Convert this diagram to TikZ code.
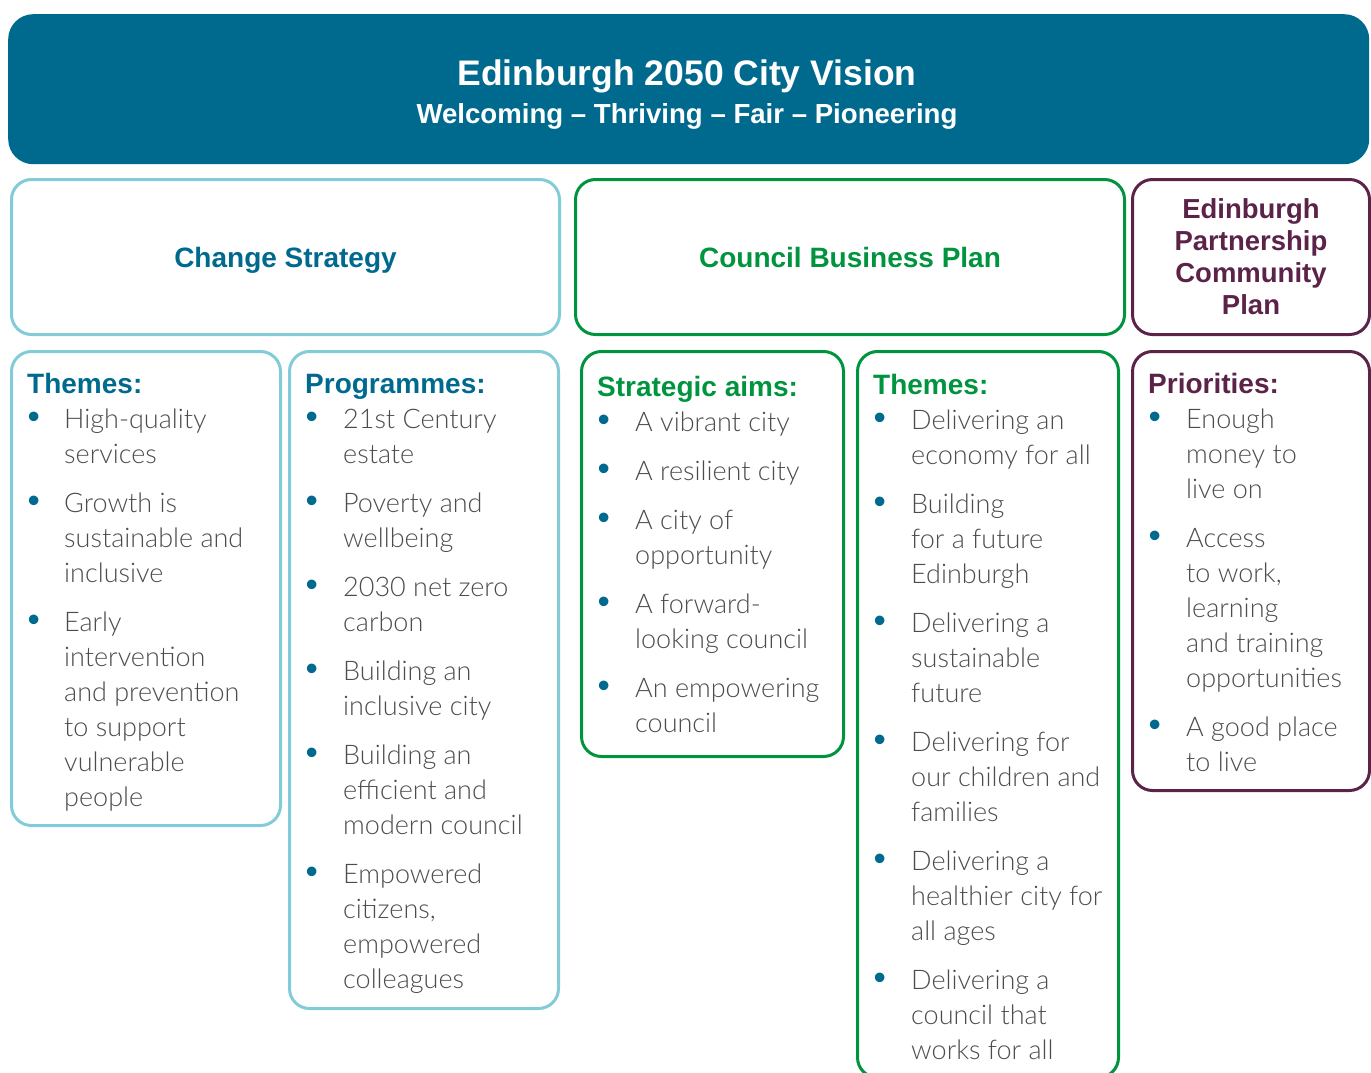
\documentclass[tikz,border=0pt]{standalone}
\usepackage{fontspec}
\usepackage{array}
\setmainfont{Liberation Sans}
\IfFontExistsTF{Lato Light}
  {\newfontfamily\bodyfont{Lato Light}}
  {\newfontfamily\bodyfont{Liberation Sans}}

\definecolor{cvteal}{HTML}{006A8E}
\definecolor{cslight}{HTML}{82CCD7}
\definecolor{cbgreen}{HTML}{00943F}
\definecolor{eppurple}{HTML}{5C2349}
\definecolor{bodygrey}{HTML}{4C4C4E}

\newcommand{\blt}{\hspace{0.5pt}\textcolor{cvteal}{\scalebox{1.3}{\rmfamily\textbullet}}}
\newcommand{\listhead}[2]{\multicolumn{2}{@{}l@{}}{\fontsize{28}{35}\selectfont\rmfamily\bfseries\color{#1}#2}}

\tikzset{
  panel/.style={draw, line width=3pt, rounded corners=20pt, anchor=north west, inner sep=0pt},
  cspanel/.style={panel, draw=cslight},
  cbpanel/.style={panel, draw=cbgreen},
  eppanel/.style={panel, draw=eppurple},
  plantitle/.style={font=\fontsize{28}{32}\selectfont\bfseries, align=center},
  itemlist/.style={anchor=base west, inner sep=0pt, text=bodygrey, font=\fontsize{27}{35}\selectfont\bodyfont}
}

\begin{document}
\begin{tikzpicture}[x=1pt, y=-1pt]

  \useasboundingbox (0,0) rectangle (1371,1073);

  % city vision banner
  \node (vision) at (8,14) [anchor=north west, fill=cvteal, rounded corners=25pt, minimum width=1361pt, minimum height=150pt] {};
  \node (visiontitle) at (687,72) [text=white, text height=26pt, text depth=0pt, font=\fontsize{35.5}{40}\selectfont\bfseries] {Edinburgh 2050 City Vision};
  \node (visionsub) at (687,113) [text=white, text height=20pt, text depth=0pt, font=\fontsize{27.6}{32}\selectfont\bfseries] {Welcoming -- Thriving -- Fair -- Pioneering};

  % plan titles
  \node (cs) at (10,178) [cspanel, minimum width=548pt, minimum height=155pt] {};
  \node (cstitle) at (cs.center) [plantitle, text=cvteal, text height=20pt, text depth=0pt] {Change Strategy};
  \node (cbp) at (574,178) [cbpanel, minimum width=549pt, minimum height=155pt] {};
  \node (cbptitle) at (cbp.center) [plantitle, text=cbgreen, text height=20pt, text depth=0pt] {Council Business Plan};
  \node (ep) at (1131,178) [eppanel, minimum width=237pt, minimum height=155pt] {};
  \node (eptitle) at (ep.center) [plantitle, text=eppurple, font=\fontsize{27.5}{32}\selectfont\bfseries] {Edinburgh\\Partnership\\Community\\Plan};

  % list panels
  \node (cstheme) at (10,350) [cspanel, minimum width=269pt, minimum height=474pt] {};
  \node (csprog) at (288,350) [cspanel, minimum width=269pt, minimum height=657pt] {};
  \node (cbpaims) at (580,350) [cbpanel, minimum width=262pt, minimum height=405pt] {};
  \node (cbptheme) at (856,350) [cbpanel, minimum width=261pt, minimum height=726pt] {};
  \node (eppri) at (1131,350) [eppanel, minimum width=237pt, minimum height=439pt] {};

  \node (csthemelist) at (27,393) [itemlist] {%
    \begin{tabular}[t]{@{}p{37pt}@{}l@{}}
      \listhead{cvteal}{Themes:}\\
      \blt & High-quality\\
           & services\\[14pt]
      \blt & Growth is\\
           & sustainable and\\
           & inclusive\\[14pt]
      \blt & Early\\
           & intervention\\
           & and prevention\\
           & to support\\
           & vulnerable\\
           & people
    \end{tabular}};

  \node (csproglist) at (305,393) [itemlist] {%
    \begin{tabular}[t]{@{}p{38pt}@{}l@{}}
      \listhead{cvteal}{Programmes:}\\
      \blt & 21st Century\\
           & estate\\[14pt]
      \blt & Poverty and\\
           & wellbeing\\[14pt]
      \blt & 2030 net zero\\
           & carbon\\[14pt]
      \blt & Building an\\
           & inclusive city\\[14pt]
      \blt & Building an\\
           & efficient and\\
           & modern council\\[14pt]
      \blt & Empowered\\
           & citizens,\\
           & empowered\\
           & colleagues
    \end{tabular}};

  \node (cbpaimslist) at (597,396) [itemlist] {%
    \begin{tabular}[t]{@{}p{38pt}@{}l@{}}
      \listhead{cbgreen}{Strategic aims:}\\
      \blt & A vibrant city\\[14pt]
      \blt & A resilient city\\[14pt]
      \blt & A city of\\
           & opportunity\\[14pt]
      \blt & A forward-\\
           & looking council\\[14pt]
      \blt & An empowering\\
           & council
    \end{tabular}};

  \node (cbpthemelist) at (873,394) [itemlist] {%
    \begin{tabular}[t]{@{}p{38pt}@{}l@{}}
      \listhead{cbgreen}{Themes:}\\
      \blt & Delivering an\\
           & economy for all\\[14pt]
      \blt & Building\\
           & for a future\\
           & Edinburgh\\[14pt]
      \blt & Delivering a\\
           & sustainable\\
           & future\\[14pt]
      \blt & Delivering for\\
           & our children and\\
           & families\\[14pt]
      \blt & Delivering a\\
           & healthier city for\\
           & all ages\\[14pt]
      \blt & Delivering a\\
           & council that\\
           & works for all
    \end{tabular}};

  \node (eprilist) at (1148,393) [itemlist] {%
    \begin{tabular}[t]{@{}p{38pt}@{}l@{}}
      \listhead{eppurple}{Priorities:}\\
      \blt & Enough\\
           & money to\\
           & live on\\[14pt]
      \blt & Access\\
           & to work,\\
           & learning\\
           & and training\\
           & opportunities\\[14pt]
      \blt & A good place\\
           & to live
    \end{tabular}};

\end{tikzpicture}
\end{document}
